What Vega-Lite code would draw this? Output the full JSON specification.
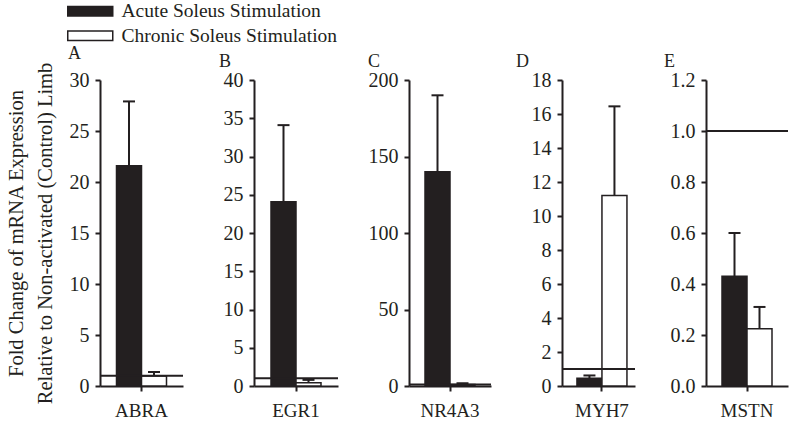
{
  "$schema": "https://vega.github.io/schema/vega-lite/v6.json",
  "background": "white",
  "padding": {"left": 6, "top": 1, "right": 2, "bottom": 2},
  "bounds": "flush",
  "spacing": 71,
  "config": {
    "font": "Liberation Serif",
    "view": {"stroke": null},
    "axis": {
      "grid": false,
      "domainColor": "#231f20",
      "domainWidth": 2,
      "tickColor": "#231f20",
      "tickWidth": 2,
      "tickSize": 5,
      "labelColor": "#231f20",
      "labelFont": "Liberation Serif",
      "labelFontSize": 20,
      "labelOverlap": false,
      "labelBound": false,
      "titleFont": "Liberation Serif",
      "titleColor": "#231f20",
      "titleFontWeight": "normal"
    },
    "axisY": {"labelPadding": 6},
    "axisX": {"labelPadding": 10, "labelFontSize": 19, "labelAngle": 0, "title": null},
    "scale": {"nice": false},
    "title": {"font": "Liberation Serif", "fontSize": 18, "fontWeight": "normal", "color": "#231f20", "anchor": "start", "frame": "group", "baseline": "alphabetic", "offset": -1}
  },
  "datasets": {
    "expr": [
      {"gene": "ABRA", "group": "Acute Soleus Stimulation", "value": 21.6, "upper": 27.9},
      {"gene": "ABRA", "group": "Chronic Soleus Stimulation", "value": 0.98, "upper": 1.37},
      {"gene": "EGR1", "group": "Acute Soleus Stimulation", "value": 24.1, "upper": 34.1},
      {"gene": "EGR1", "group": "Chronic Soleus Stimulation", "value": 0.42, "upper": 0.8},
      {"gene": "NR4A3", "group": "Acute Soleus Stimulation", "value": 140, "upper": 190},
      {"gene": "NR4A3", "group": "Chronic Soleus Stimulation", "value": 1.0, "upper": 1.8},
      {"gene": "MYH7", "group": "Acute Soleus Stimulation", "value": 0.45, "upper": 0.62},
      {"gene": "MYH7", "group": "Chronic Soleus Stimulation", "value": 11.2, "upper": 16.45},
      {"gene": "MSTN", "group": "Acute Soleus Stimulation", "value": 0.43, "upper": 0.6},
      {"gene": "MSTN", "group": "Chronic Soleus Stimulation", "value": 0.225, "upper": 0.31}
    ]
  },
  "hconcat": [
    {
      "width": 83, "height": 306,
      "title": {"text": "A", "dx": -32},
      "data": {"name": "expr"},
      "transform": [{"filter": "datum.gene === 'ABRA'"}],
      "encoding": {
        "x": {"field": "gene", "type": "nominal", "scale": {"paddingInner": 0, "paddingOuter": 0.33}, "axis": {"title": null}},
        "xOffset": {"field": "group", "type": "nominal", "scale": {"paddingInner": 0, "paddingOuter": 0}},
        "y": {"field": "value", "type": "quantitative", "scale": {"domain": [0, 30], "nice": false},
              "axis": {"values": [0, 5, 10, 15, 20, 25, 30], "labelOverlap": false,
                       "title": ["Fold Change of mRNA Expression", "Relative to Non-activated (Control) Limb"],
                       "titleFontSize": 20.5, "titleLineHeight": 29, "titlePadding": 14}}
      },
      "layer": [
        {
          "mark": {"type": "bar", "stroke": "#231f20", "strokeWidth": 1.5},
          "encoding": {
            "fill": {"field": "group", "type": "nominal",
                     "scale": {"domain": ["Acute Soleus Stimulation", "Chronic Soleus Stimulation"], "range": ["#231f20", "#ffffff"]},
                     "legend": {"orient": "none", "legendX": -19.5, "legendY": -78.5, "title": null, "direction": "vertical",
                                "symbolType": "M-4.5,-0.95H4.5V0.95H-4.5Z", "symbolSize": 100, "symbolStrokeColor": "#231f20",
                                "symbolStrokeWidth": 1.5, "symbolOpacity": 1, "labelFont": "Liberation Serif", "labelFontSize": 19.5,
                                "labelColor": "#231f20", "labelOffset": 21.5, "labelLimit": 400, "rowPadding": 3.5, "padding": 0}}
          }
        },
        {
          "mark": {"type": "rule", "stroke": "#231f20", "strokeWidth": 2},
          "encoding": {"y2": {"field": "upper"}}
        },
        {
          "mark": {"type": "tick", "color": "#231f20", "thickness": 2, "size": 12, "opacity": 1},
          "encoding": {"y": {"field": "upper", "type": "quantitative"}}
        },
        {
          "transform": [{"filter": "datum.group === 'Acute Soleus Stimulation'"}],
          "mark": {"type": "rule", "stroke": "#231f20", "strokeWidth": 2},
          "encoding": {"x": null, "xOffset": null, "y": {"datum": 1}}
        }
      ]
    },
    {
      "width": 84, "height": 306,
      "title": {"text": "B", "dx": -35},
      "data": {"name": "expr"},
      "transform": [{"filter": "datum.gene === 'EGR1'"}],
      "encoding": {
        "x": {"field": "gene", "type": "nominal", "scale": {"paddingInner": 0, "paddingOuter": 0.34}, "axis": {"title": null}},
        "xOffset": {"field": "group", "type": "nominal", "scale": {"paddingInner": 0, "paddingOuter": 0}},
        "y": {"field": "value", "type": "quantitative", "scale": {"domain": [0, 40], "nice": false},
              "axis": {"values": [0, 5, 10, 15, 20, 25, 30, 35, 40], "labelOverlap": false, "title": null}}
      },
      "layer": [
        {
          "mark": {"type": "bar", "stroke": "#231f20", "strokeWidth": 1.5},
          "encoding": {
            "fill": {"field": "group", "type": "nominal",
                     "scale": {"domain": ["Acute Soleus Stimulation", "Chronic Soleus Stimulation"], "range": ["#231f20", "#ffffff"]},
                     "legend": null}
          }
        },
        {
          "mark": {"type": "rule", "stroke": "#231f20", "strokeWidth": 2},
          "encoding": {"y2": {"field": "upper"}}
        },
        {
          "mark": {"type": "tick", "color": "#231f20", "thickness": 2, "size": 12, "opacity": 1},
          "encoding": {"y": {"field": "upper", "type": "quantitative"}}
        },
        {
          "transform": [{"filter": "datum.group === 'Acute Soleus Stimulation'"}],
          "mark": {"type": "rule", "stroke": "#231f20", "strokeWidth": 2},
          "encoding": {"x": null, "xOffset": null, "y": {"datum": 1}}
        }
      ]
    },
    {
      "width": 82, "height": 306,
      "title": {"text": "C", "dx": -41},
      "data": {"name": "expr"},
      "transform": [{"filter": "datum.gene === 'NR4A3'"}],
      "encoding": {
        "x": {"field": "gene", "type": "nominal", "scale": {"paddingInner": 0, "paddingOuter": 0.32}, "axis": {"title": null}},
        "xOffset": {"field": "group", "type": "nominal", "scale": {"paddingInner": 0, "paddingOuter": 0}},
        "y": {"field": "value", "type": "quantitative", "scale": {"domain": [0, 200], "nice": false},
              "axis": {"values": [0, 50, 100, 150, 200], "labelOverlap": false, "title": null}}
      },
      "layer": [
        {
          "mark": {"type": "bar", "stroke": "#231f20", "strokeWidth": 1.5},
          "encoding": {
            "fill": {"field": "group", "type": "nominal",
                     "scale": {"domain": ["Acute Soleus Stimulation", "Chronic Soleus Stimulation"], "range": ["#231f20", "#ffffff"]},
                     "legend": null}
          }
        },
        {
          "mark": {"type": "rule", "stroke": "#231f20", "strokeWidth": 2},
          "encoding": {"y2": {"field": "upper"}}
        },
        {
          "mark": {"type": "tick", "color": "#231f20", "thickness": 2, "size": 12, "opacity": 1},
          "encoding": {"y": {"field": "upper", "type": "quantitative"}}
        },
        {
          "transform": [{"filter": "datum.group === 'Acute Soleus Stimulation'"}],
          "mark": {"type": "rule", "stroke": "#231f20", "strokeWidth": 2},
          "encoding": {"x": null, "xOffset": null, "y": {"datum": 1}}
        }
      ]
    },
    {
      "width": 73, "height": 306,
      "title": {"text": "D", "dx": -46},
      "data": {"name": "expr"},
      "transform": [{"filter": "datum.gene === 'MYH7'"}],
      "encoding": {
        "x": {"field": "gene", "type": "nominal", "scale": {"paddingInner": 0, "paddingOuter": 0.23, "align": 0.65}, "axis": {"title": null}},
        "xOffset": {"field": "group", "type": "nominal", "scale": {"paddingInner": 0, "paddingOuter": 0}},
        "y": {"field": "value", "type": "quantitative", "scale": {"domain": [0, 18], "nice": false},
              "axis": {"values": [0, 2, 4, 6, 8, 10, 12, 14, 16, 18], "labelOverlap": false, "title": null}}
      },
      "layer": [
        {
          "mark": {"type": "bar", "stroke": "#231f20", "strokeWidth": 1.5},
          "encoding": {
            "fill": {"field": "group", "type": "nominal",
                     "scale": {"domain": ["Acute Soleus Stimulation", "Chronic Soleus Stimulation"], "range": ["#231f20", "#ffffff"]},
                     "legend": null}
          }
        },
        {
          "mark": {"type": "rule", "stroke": "#231f20", "strokeWidth": 2},
          "encoding": {"y2": {"field": "upper"}}
        },
        {
          "mark": {"type": "tick", "color": "#231f20", "thickness": 2, "size": 12, "opacity": 1},
          "encoding": {"y": {"field": "upper", "type": "quantitative"}}
        },
        {
          "transform": [{"filter": "datum.group === 'Acute Soleus Stimulation'"}],
          "mark": {"type": "rule", "stroke": "#231f20", "strokeWidth": 2},
          "encoding": {"x": null, "xOffset": null, "y": {"datum": 1}}
        }
      ]
    },
    {
      "width": 82, "height": 306,
      "title": {"text": "E", "dx": -42},
      "data": {"name": "expr"},
      "transform": [{"filter": "datum.gene === 'MSTN'"}],
      "encoding": {
        "x": {"field": "gene", "type": "nominal", "scale": {"paddingInner": 0, "paddingOuter": 0.32}, "axis": {"title": null}},
        "xOffset": {"field": "group", "type": "nominal", "scale": {"paddingInner": 0, "paddingOuter": 0}},
        "y": {"field": "value", "type": "quantitative", "scale": {"domain": [0, 1.2], "nice": false},
              "axis": {"values": [0, 0.2, 0.4, 0.6, 0.8, 1.0, 1.2], "format": ".1f", "labelOverlap": false, "title": null}}
      },
      "layer": [
        {
          "mark": {"type": "bar", "stroke": "#231f20", "strokeWidth": 1.5},
          "encoding": {
            "fill": {"field": "group", "type": "nominal",
                     "scale": {"domain": ["Acute Soleus Stimulation", "Chronic Soleus Stimulation"], "range": ["#231f20", "#ffffff"]},
                     "legend": null}
          }
        },
        {
          "mark": {"type": "rule", "stroke": "#231f20", "strokeWidth": 2},
          "encoding": {"y2": {"field": "upper"}}
        },
        {
          "mark": {"type": "tick", "color": "#231f20", "thickness": 2, "size": 12, "opacity": 1},
          "encoding": {"y": {"field": "upper", "type": "quantitative"}}
        },
        {
          "transform": [{"filter": "datum.group === 'Acute Soleus Stimulation'"}],
          "mark": {"type": "rule", "stroke": "#231f20", "strokeWidth": 2},
          "encoding": {"x": null, "xOffset": null, "y": {"datum": 1}}
        }
      ]
    }
  ]
}
